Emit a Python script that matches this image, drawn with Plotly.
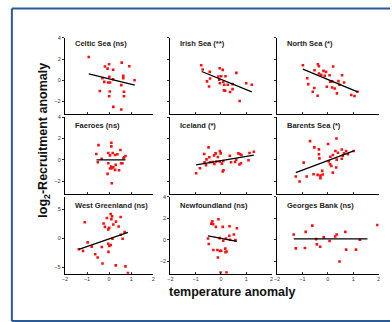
import plotly.graph_objects as go

titles = ["Celtic Sea (ns)", "Irish Sea (**)", "North Sea (*)",
          "Faeroes (ns)", "Iceland (*)", "Barents Sea (*)",
          "West Greenland (ns)", "Newfoundland (ns)", "Georges Bank (ns)"]

celtic_x = [-0.92, -0.19, 0.0, -0.07, 0.18, 0.57, 0.91, 0.01, 0.64, 0.64, -0.3, 0.18, 1.15, -0.22, -0.04, 0.04, 0.55, -0.42, 0.03, 0.67, 0.67, 0.0, 0.19, 0.55]
celtic_y = [2.2, 1.3, 1.52, 1.1, 1.0, 1.67, 1.33, 0.33, 0.42, 0.2, 0.2, 0.1, 0.0, -0.15, -0.2, -0.2, -0.45, -1.0, -1.05, -1.08, -1.5, -1.5, -2.5, -2.75]

irish_x = [-0.78, -0.72, -0.44, -0.05, 0.07, 0.61, -0.43, -0.55, -0.47, -0.1, 0.01, 0.18, -0.07, -0.04, 0.09, 0.13, 0.27, 0.46, 0.46, 0.12, 0.17, 0.36, 1.0, 1.22, 0.74]
irish_y = [1.42, 1.02, 0.8, 1.14, 0.98, 0.7, 0.17, -0.1, -0.58, 0.36, 0.39, 0.39, 0.05, -0.27, -0.14, -0.42, -0.42, -0.36, -0.83, -0.95, -0.98, -1.1, -0.27, -0.42, -1.95]

north_x = [-0.98, -0.39, -0.35, -0.52, -0.17, -0.07, 0.21, -0.35, -0.26, -0.12, 0.07, 0.56, -0.81, -0.77, 0.1, 0.17, 0.42, 0.64, 0.46, -0.04, 0.17, 0.27, -0.53, -0.59, 0.36, -0.4, 0.92, 1.05, 1.17]
north_y = [1.42, 1.52, 1.33, 0.95, 0.89, 0.8, 1.3, 0.64, 0.52, 0.42, 0.48, 0.48, 0.2, -0.36, -0.14, -0.1, -0.08, -0.2, -0.42, -0.6, -0.67, -0.77, -0.73, -1.08, -1.23, -1.45, -1.39, -1.48, -1.08]

faeroes_x = [-0.48, -0.58, 0.1, 0.1, 0.51, -0.04, 0.16, 0.27, 0.37, 0.04, -0.34, 0.65, 0.74, 0.68, -0.51, -0.04, 0.3, 0.54, 0.6, 0.09, 0.19, 0.13, 0.04, 0.27, 0.45, -0.07, 0.12]
faeroes_y = [1.39, 0.56, 1.61, 1.27, 0.93, 0.65, 0.65, 0.46, 0.53, 0.43, 0.12, 0.15, 0.37, 0.25, -0.22, -0.31, -0.46, -0.31, -0.31, -0.62, -0.68, -0.77, -0.8, -0.93, -0.96, -1.3, -2.17]

iceland_x = [-0.49, -0.66, -0.98, -0.83, -0.65, -0.57, -0.59, -0.46, -0.27, -0.21, -0.04, -0.01, -0.12, -0.33, -0.43, -0.26, -0.18, -0.05, 0.09, 0.04, 0.1, 0.07, 0.35, 0.4, 0.6, 0.69, 0.76, 0.81, 0.73, 0.79, 1.09, 1.13, 1.3, 0.56]
iceland_y = [1.18, 0.56, -1.24, -0.77, -0.22, 0.06, -0.5, 0.25, 0.43, 0.62, 0.84, 0.62, 0.28, -0.19, -0.22, -0.37, -0.15, -0.15, -0.09, -0.34, -0.96, -1.08, 0.4, -0.22, 0.03, 0.62, 0.53, 0.46, -0.43, -0.31, -0.03, 0.65, 0.77, -0.19]

barents_x = [-1.26, -1.11, -0.95, -0.83, -0.7, -0.53, -0.35, -0.35, -0.33, -0.56, -0.4, -0.29, -0.29, -0.22, -0.2, 0.01, 0.04, 0.09, 0.14, 0.2, 0.3, 0.34, 0.4, 0.35, 0.2, 0.33, 0.55, 0.64, 0.55, 0.59, 0.72, 0.79, 1.02, 0.1]
barents_y = [-1.55, -2.01, -0.25, -1.55, 1.76, 1.18, 0.99, 0.53, 0.15, -1.33, -1.39, -1.46, -1.7, -1.02, -1.36, 1.49, -0.15, -0.4, -0.56, 0.46, 0.84, 2.01, 0.68, 0.03, -1.18, -0.71, 0.98, 0.62, 0.12, 0.4, 0.84, 0.53, 0.84, 0.3]

wgreen_x = [-1.1, -1.37, -1.18, -0.97, -0.79, -0.63, -0.52, -0.3, -0.33, -0.25, -0.19, -0.1, -0.04, 0.0, 0.07, 0.13, 0.1, 0.19, 0.31, 0.43, 0.52, 0.15, -0.04, 0.01, 0.07, -0.03, 0.52, 0.61, 0.7, 0.3, 0.74, 0.85]
wgreen_y = [2.78, -1.88, -2.16, -0.68, -1.42, -2.73, -3.3, -4.32, -1.48, 2.56, 1.99, 3.52, 1.53, 1.82, 4.2, 3.81, 3.3, 2.39, 2.9, 2.05, 3.69, -0.06, -0.91, -1.31, -1.14, -2.33, 0.63, -0.06, 1.08, -4.66, -4.83, -5.97]

newf_x = [-0.38, -0.34, -0.31, -0.1, -0.2, 0.07, 0.34, 0.63, 0.51, 0.33, 0.2, -0.51, -0.48, -0.05, 0.09, 0.36, 0.57, -0.3, -0.14, -0.04, 0.01, 0.17, 0.18, 0.22, -0.12, -0.01, 0.22]
newf_y = [1.51, 1.72, 1.45, 1.91, 1.2, 1.2, 1.26, 1.08, 0.49, 0.37, 0.12, 0.12, -0.4, 0.15, -0.09, 0.0, -0.03, -0.95, -0.95, -1.05, -1.02, -0.83, -1.17, -1.11, -1.66, -3.05, -3.05]

georges_x = [-1.34, -1.26, -0.87, -0.9, -0.61, -0.46, -0.43, -0.3, -0.16, 0.07, 0.29, 0.35, 0.46, 0.69, 0.72, 1.11, 1.26, 1.95]
georges_y = [0.49, -0.8, 0.74, -0.77, 1.32, 0.06, -0.43, -0.65, 0.22, -0.12, 0.31, 0.49, -2.03, 0.74, -0.92, -0.92, 0.0, 1.38]

# fitted regression lines (end points), panel order
fit_x0 = [-0.92, -0.76, -0.98, -0.57, -0.98, -1.26, -1.37, -0.51, -1.34]
fit_x1 = [1.16, 1.22, 1.17, 0.74, 1.30, 1.02, 0.85, 0.63, 1.56]
fit_y0 = [0.61, 0.83, 1.05, 0.0, -0.46, -1.18, -1.88, 0.37, 0.08]
fit_y1 = [-0.45, -1.08, -1.08, 0.0, 0.46, 0.84, 1.02, -0.15, 0.08]

panels_x = [celtic_x, irish_x, north_x, faeroes_x, iceland_x, barents_x, wgreen_x, newf_x, georges_x]
panels_y = [celtic_y, irish_y, north_y, faeroes_y, iceland_y, barents_y, wgreen_y, newf_y, georges_y]

y_ranges = [[-3.17, 4.02]] * 6 + [[-6.1, 7.2], [-3.17, 4.02], [-3.17, 4.02]]
y_dticks = [2] * 6 + [5, 2, 2]

W, H = 392, 322
col_px = [(62.7, 152.3), (169.5, 272.0), (277.5, 380.5)]
row_px = [(35.0, 112.0), (115.0, 192.7), (195.5, 273.3)]

FONT = "Liberation Sans, Arial, sans-serif"
fig = go.Figure()
layout = dict(
    width=W, height=H, margin=dict(l=0, r=0, t=0, b=0),
    paper_bgcolor="white", plot_bgcolor="white", showlegend=False,
    font=dict(family=FONT, color="#222"),
)
annotations = []
for i in range(9):
    r, c = divmod(i, 3)
    ax = "" if i == 0 else str(i + 1)
    fig.add_trace(go.Scatter(x=panels_x[i], y=panels_y[i], mode="markers",
                             marker=dict(symbol="square", size=2.6, color="#ff1010"),
                             xaxis="x" + ax, yaxis="y" + ax, hoverinfo="skip"))
    fig.add_trace(go.Scatter(x=[fit_x0[i], fit_x1[i]], y=[fit_y0[i], fit_y1[i]], mode="lines",
                             line=dict(color="black", width=1.3),
                             xaxis="x" + ax, yaxis="y" + ax, hoverinfo="skip"))
    xd = [col_px[c][0] / W, col_px[c][1] / W]
    yd = [1 - row_px[r][1] / H, 1 - row_px[r][0] / H]
    show_x = r == 2
    show_y = c == 0 or (r == 2 and c == 1)
    layout["xaxis" + ax] = dict(domain=xd, range=[-2, 2], dtick=1, tick0=0, anchor="y" + ax,
                                showline=True, linecolor="black", linewidth=1.2,
                                ticks="inside", ticklen=2, tickcolor="#333", tickwidth=0.8,
                                showticklabels=show_x, tickfont=dict(size=5.5, color="#333"),
                                showgrid=False, zeroline=False, fixedrange=True)
    layout["yaxis" + ax] = dict(domain=yd, range=y_ranges[i], dtick=y_dticks[i], tick0=0,
                                anchor="x" + ax,
                                showline=True, linecolor="black", linewidth=1.2,
                                ticks="outside", ticklen=2, tickcolor="#333", tickwidth=0.8,
                                showticklabels=show_y, tickfont=dict(size=5.5, color="#333"),
                                showgrid=False, zeroline=False, fixedrange=True)
    title_y = [40.5, 123.3, 204.0][r]
    annotations.append(dict(text="<b>" + titles[i] + "</b>", xref="paper", yref="paper",
                            x=(col_px[c][0] + 8) / W, y=1 - title_y / H,
                            xanchor="left", yanchor="middle", showarrow=False,
                            font=dict(size=7.5, color="#222", family=FONT)))

annotations.append(dict(text="<b>temperature anomaly</b>", xref="paper", yref="paper",
                        x=232.3 / W, y=1 - 291.7 / H, xanchor="center", yanchor="middle",
                        showarrow=False, font=dict(size=12.5, color="#111", family=FONT)))
annotations.append(dict(text="<b>log<sub>2</sub>-Recruitment anomaly</b>", xref="paper", yref="paper",
                        x=41.5 / W, y=1 - 138 / H, xanchor="center", yanchor="middle",
                        textangle=-90, showarrow=False,
                        font=dict(size=12.5, color="#111", family=FONT)))
layout["annotations"] = annotations
fx0, fy_top, fy_bot = 9 / W, 1 - 5.5 / H, 1 - 321 / H
frame_line = dict(color="#2b5a98", width=2)
layout["shapes"] = [
    dict(type="line", xref="paper", yref="paper", x0=fx0, x1=1.0, y0=fy_top, y1=fy_top, line=frame_line),
    dict(type="line", xref="paper", yref="paper", x0=fx0, x1=fx0, y0=fy_bot, y1=fy_top, line=frame_line),
    dict(type="line", xref="paper", yref="paper", x0=fx0, x1=1.0, y0=fy_bot, y1=fy_bot, line=frame_line),
]
fig.update_layout(**layout)
fig.write_html("out.html", config={"displayModeBar": False},
               post_script="document.body.style.margin='0';document.body.style.overflow='hidden';")
